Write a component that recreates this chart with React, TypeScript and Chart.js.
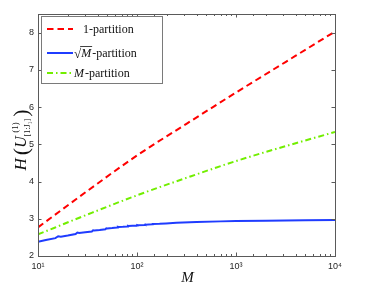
import React, { useEffect, useRef } from 'react';
import { Chart, registerables } from 'chart.js';
Chart.register(...registerables);

// ---- data ----
const redM = [10, 32, 100, 316, 1000, 3162, 10000];
const redH = [2.77, 3.76, 4.7, 5.55, 6.39, 7.21, 8.03];

const greenM = [10, 32, 100, 316, 1000, 3162, 10000];
const greenH = [2.58, 3.12, 3.63, 4.1, 4.55, 4.95, 5.33];

const blueM = [10, 12, 15, 16, 17, 20, 24, 25, 26, 30, 35, 36, 37, 42, 48, 49, 50, 56, 63, 64, 65, 72, 80, 81, 82, 90, 99, 100, 101, 120, 121, 122, 143, 144, 169, 196, 250, 400, 700, 1000, 2000, 5000, 10000];
const blueH = [2.38, 2.43, 2.48, 2.53, 2.52, 2.55, 2.59, 2.63, 2.62, 2.64, 2.66, 2.69, 2.685, 2.7, 2.72, 2.745, 2.74, 2.75, 2.765, 2.785, 2.78, 2.785, 2.795, 2.81, 2.805, 2.81, 2.815, 2.83, 2.825, 2.835, 2.845, 2.84, 2.85, 2.86, 2.865, 2.875, 2.89, 2.91, 2.93, 2.94, 2.95, 2.96, 2.965];

const yTicks = [2, 3, 4, 5, 6, 7, 8];
const xMajor = [10, 100, 1000, 10000];
const xTickLabels = ['10¹', '10²', '10³', '10⁴'];

const legendLabels = ['1-partition', '√M-partition', 'M-partition'];

const RED = '#ff0000';
const BLUE = '#1f3cff';
const GREEN = '#72ee00';
const GREEN_DASH = [6, 3, 1.5, 3];
const RED_DASH = [6.5, 4];

const pts = (xs: number[], ys: number[]) => xs.map((x, i) => ({ x, y: ys[i] }));

const decorPlugin = {
  id: 'decor',
  afterDraw(chart: any) {
    const ctx = chart.ctx as CanvasRenderingContext2D;
    const a = chart.chartArea;
    const xs = chart.scales.x;
    const ys = chart.scales.y;
    ctx.save();
    // box
    ctx.strokeStyle = '#5a5a5a';
    ctx.lineWidth = 1;
    ctx.setLineDash([]);
    ctx.strokeRect(Math.round(a.left) + 0.5, Math.round(a.top) + 0.5, Math.round(a.right - a.left), Math.round(a.bottom - a.top));
    // inward ticks
    ctx.beginPath();
    xs.ticks.forEach((t: any) => {
      const px = Math.round(xs.getPixelForValue(t.value)) + 0.5;
      const isMajor = xMajor.includes(t.value);
      const len = isMajor ? 3.5 : 2;
      ctx.moveTo(px, a.bottom);
      ctx.lineTo(px, a.bottom - len);
      ctx.moveTo(px, a.top);
      ctx.lineTo(px, a.top + len);
    });
    ys.ticks.forEach((t: any) => {
      const py = Math.round(ys.getPixelForValue(t.value)) + 0.5;
      ctx.moveTo(a.left, py);
      ctx.lineTo(a.left + 3.5, py);
      ctx.moveTo(a.right, py);
      ctx.lineTo(a.right - 3.5, py);
    });
    ctx.stroke();

    // legend
    const bx = 41.5, by = 16.5, bw = 121, bh = 67;
    ctx.fillStyle = '#ffffff';
    ctx.fillRect(bx, by, bw, bh);
    ctx.strokeStyle = '#7a7a7a';
    ctx.strokeRect(bx, by, bw, bh);
    const rows = [29, 53, 73];
    const colors = [RED, BLUE, GREEN];
    const dashes = [RED_DASH, [], GREEN_DASH];
    rows.forEach((ry, i) => {
      ctx.beginPath();
      ctx.strokeStyle = colors[i];
      ctx.lineWidth = 2;
      ctx.setLineDash(dashes[i]);
      ctx.moveTo(47, ry);
      ctx.lineTo(73, ry);
      ctx.stroke();
    });
    ctx.setLineDash([]);
    ctx.fillStyle = '#111';
    ctx.textBaseline = 'alphabetic';
    ctx.textAlign = 'left';
    const serif = '"Liberation Serif", "DejaVu Serif", serif';
    // row 1
    ctx.font = `12px ${serif}`;
    ctx.fillText(legendLabels[0], 83, rows[0] + 4);
    // row 2: sqrt M
    let x = 74;
    ctx.font = `13px ${serif}`;
    ctx.fillText('√', x, rows[1] + 5);
    x += ctx.measureText('√').width;
    ctx.font = `italic 12px ${serif}`;
    const mw = ctx.measureText('M').width;
    ctx.fillText('M', x, rows[1] + 4);
    ctx.beginPath();
    ctx.lineWidth = 0.8;
    ctx.strokeStyle = '#111';
    ctx.moveTo(x - 1, rows[1] - 6.5);
    ctx.lineTo(x + mw + 1, rows[1] - 6.5);
    ctx.stroke();
    x += mw + 1;
    ctx.font = `12px ${serif}`;
    ctx.fillText(legendLabels[1].slice(2), x, rows[1] + 4);
    // row 3
    x = 74;
    ctx.font = `italic 12px ${serif}`;
    ctx.fillText('M', x, rows[2] + 4);
    x += ctx.measureText('M').width + 1;
    ctx.font = `12px ${serif}`;
    ctx.fillText(legendLabels[2].slice(1), x, rows[2] + 4);

    // x title
    ctx.font = `italic 15px ${serif}`;
    ctx.textAlign = 'center';
    ctx.fillStyle = '#111';
    ctx.fillText('M', (a.left + a.right) / 2 + 1, 282);

    // y title (rotated)
    ctx.save();
    const cy = 140;
    ctx.translate(26, cy);
    ctx.rotate(-Math.PI / 2);
    ctx.textAlign = 'left';
    ctx.font = `italic 17px ${serif}`;
    const wH = ctx.measureText('H').width;
    ctx.font = `22px ${serif}`;
    const wP = ctx.measureText('(').width;
    ctx.font = `italic 16px ${serif}`;
    const wU = ctx.measureText('U').width;
    ctx.font = `9px ${serif}`;
    const wSup = ctx.measureText('(1)').width;
    ctx.font = `8px ${serif}`;
    const wSub = ctx.measureText('[1:J₁]').width;
    const wScript = Math.max(wSup, wSub);
    const total = wH + 3 + wP + wU + wScript + 2 + wP;
    let tx = -total / 2;
    ctx.font = `italic 17px ${serif}`;
    ctx.fillText('H', tx, 0);
    tx += wH + 3;
    ctx.font = `22px ${serif}`;
    ctx.fillText('(', tx, 2);
    tx += wP;
    ctx.font = `italic 16px ${serif}`;
    ctx.fillText('U', tx, 0);
    tx += wU;
    ctx.font = `9px ${serif}`;
    ctx.fillText('(1)', tx + (wScript - wSup) / 2, -8);
    ctx.font = `8px ${serif}`;
    ctx.fillText('[1:J₁]', tx, 4);
    tx += wScript + 2;
    ctx.font = `22px ${serif}`;
    ctx.fillText(')', tx, 2);
    ctx.restore();

    ctx.restore();
  },
};

export default function App() {
  const ref = useRef<HTMLCanvasElement>(null);
  useEffect(() => {
    if (!ref.current) return;
    const chart = new Chart(ref.current, {
      type: 'line',
      data: {
        datasets: [
          { label: legendLabels[0], data: pts(redM, redH), borderColor: RED, borderWidth: 2, borderDash: RED_DASH, pointRadius: 0, cubicInterpolationMode: 'monotone', fill: false },
          { label: legendLabels[1], data: pts(blueM, blueH), borderColor: BLUE, borderWidth: 2, pointRadius: 0, tension: 0, fill: false },
          { label: legendLabels[2], data: pts(greenM, greenH), borderColor: GREEN, borderWidth: 2, borderDash: GREEN_DASH, pointRadius: 0, cubicInterpolationMode: 'monotone', fill: false },
        ],
      },
      options: {
        animation: false,
        responsive: false,
        maintainAspectRatio: false,
        layout: { padding: { left: 0, right: 36, top: 14, bottom: 0 } },
        plugins: { legend: { display: false }, tooltip: { enabled: false }, title: { display: false } },
        scales: {
          x: {
            type: 'logarithmic',
            min: 10,
            max: 10000,
            grid: { display: false, drawTicks: false },
            border: { display: false },
            ticks: {
              autoSkip: false,
              maxRotation: 0,
              padding: 5,
              color: '#262626',
              font: { family: '"Liberation Sans", Arial, sans-serif', size: 9 },
              callback: (v: any) => {
                const i = xMajor.indexOf(Number(v));
                return i >= 0 ? xTickLabels[i] : '';
              },
            },
            afterFit: (s: any) => { s.height = 33; },
          },
          y: {
            type: 'linear',
            min: 2,
            max: 8.5,
            afterBuildTicks: (s: any) => { s.ticks = yTicks.map((v) => ({ value: v })); },
            grid: { display: false, drawTicks: false },
            border: { display: false },
            ticks: {
              padding: 4,
              color: '#262626',
              font: { family: '"Liberation Sans", Arial, sans-serif', size: 9 },
              callback: (v: any) => String(v),
            },
            afterFit: (s: any) => { s.width = 38; },
          },
        },
      },
      plugins: [decorPlugin],
    } as any);
    return () => chart.destroy();
  }, []);
  return (
    <div style={{ position: 'fixed', left: 0, top: 0, width: 371, height: 289, background: '#fff' }}>
      <canvas ref={ref} width={371} height={289} style={{ display: 'block', width: 371, height: 289 }} />
    </div>
  );
}
